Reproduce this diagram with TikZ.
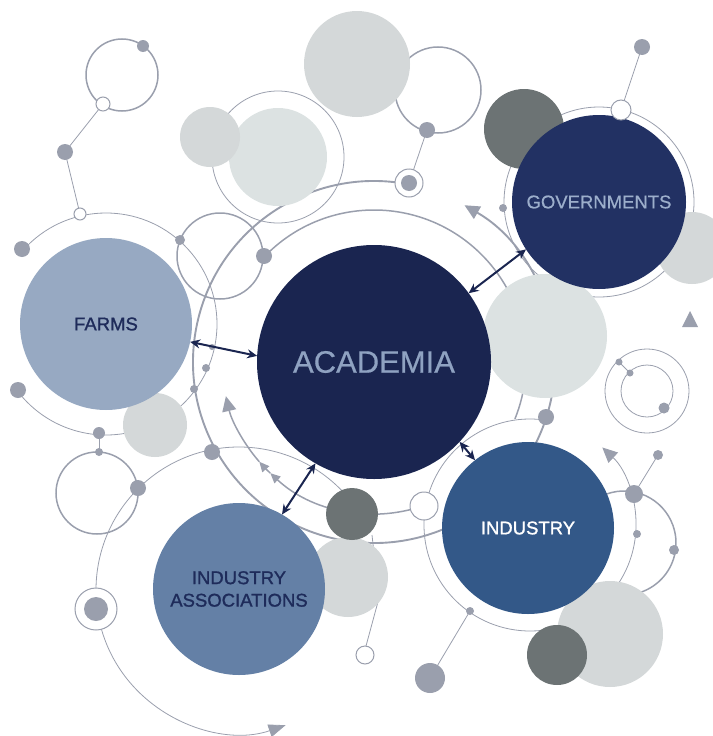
\documentclass[tikz,border=0pt]{standalone}
\usepackage{fontspec}
\setmainfont{Liberation Sans}
\newfontfamily\medfont[FakeBold=1.2]{Liberation Sans}
\newfontfamily\semifont[FakeBold=0.5]{Liberation Sans}
\usetikzlibrary{arrows.meta}
\definecolor{acadc}{HTML}{1A2550}
\definecolor{acadt}{HTML}{8FA2C1}
\definecolor{govc}{HTML}{223163}
\definecolor{govt}{HTML}{9CAECB}
\definecolor{farmc}{HTML}{97A9C2}
\definecolor{darkt}{HTML}{1E2B5A}
\definecolor{indc}{HTML}{335888}
\definecolor{iac}{HTML}{6480A6}
\definecolor{lgray}{HTML}{D4D8D9}
\definecolor{lgrayb}{HTML}{DCE2E2}
\definecolor{dgray}{HTML}{6C7374}
\definecolor{dotc}{HTML}{9A9FAD}
\definecolor{linec}{HTML}{9A9FAD}
\tikzset{
  thinline/.style={draw=linec, line width=0.8pt},
  medline/.style={draw=linec, line width=1.5pt},
  thickline/.style={draw=linec, line width=1.9pt},
  bigtip/.style={-{Triangle[width=14pt,length=15pt]}},
  smalltip/.style={-{Triangle[width=9pt,length=10pt]}},
  mainc/.style={circle, inner sep=0pt, outer sep=0pt, draw=none, align=center},
  link/.style={draw=acadc, line width=2pt, {Stealth[length=10pt,width=9pt]}-{Stealth[length=10pt,width=9pt]}},
  opendot/.style={fill=white, draw=linec, line width=1pt},
}
\begin{document}
\begin{tikzpicture}[x=1pt,y=-1pt]
\useasboundingbox (0,0) rectangle (712,736);
% ---------- thin rings ----------
\draw[thinline] (106,324) ++(138:111pt) arc[start angle=138, end angle=-143, radius=111pt];
\draw[thinline] (278,157) circle[radius=66pt];
\draw[thinline] (599,202) circle[radius=95pt];
\draw[thinline] (647,391) circle[radius=42pt];
\draw[thinline] (647,391) circle[radius=26pt];
\draw[thinline] (619,362) -- (630,373);
\draw[thinline, -{Triangle[width=13pt,length=17pt]}] (239,590) ++(40:143pt) arc[start angle=40, end angle=289, radius=143pt];
\draw[thinline, bigtip] (530,525) ++(-278:106pt) arc[start angle=-278, end angle=47, radius=106pt];
% ---------- medium / thick rings ----------
\draw[thickline, bigtip] (374,362) ++(79:181pt) arc[start angle=79, end angle=420, radius=181pt];
\draw[medline] (374,362) ++(136:152pt) arc[start angle=136, end angle=-22, radius=152pt];
\draw[medline, smalltip] (374,362) ++(-71:152pt) arc[start angle=-71, end angle=-133, radius=152pt];
\draw[medline, smalltip] (374,362) ++(-133:152pt) arc[start angle=-133, end angle=-139, radius=152pt];
\draw[medline, bigtip] (374,362) ++(-139:152pt) arc[start angle=-139, end angle=-167, radius=152pt];
\draw[medline] (122,75) circle[radius=36pt];
\draw[medline] (220,256) circle[radius=43pt];
\draw[medline] (438,90) circle[radius=43pt];
\draw[medline] (97,493) circle[radius=41pt];
\draw[medline] (624,543) ++(110:52pt) arc[start angle=110, end angle=-72, radius=52pt];
% ---------- connecting lines ----------
\draw[thinline] (103,104) -- (65,152) -- (80,214);
\draw[thinline] (99,433) -- (99,452);
\draw[thinline] (409,183) -- (427,130);
\draw[thinline] (621,110) -- (642,47);
\draw[thinline] (634,494) -- (658,455);
\draw[thinline] (470,611) -- (430,678);
\draw[thinline] (366,646) -- (379,598) -- (372,535);
% ---------- grey filled circles ----------
\fill[lgray] (357,64) circle[radius=53pt];
\fill[lgrayb] (278,157) circle[radius=49pt];
\fill[lgray] (210,137) circle[radius=30pt];
\fill[lgray] (692,248) circle[radius=36pt];
\fill[dgray] (524,129) circle[radius=40pt];
\fill[lgrayb] (545,336) circle[radius=62pt];
\fill[lgray] (155,425) circle[radius=32pt];
\fill[lgray] (348,577) circle[radius=40pt];
\fill[dgray] (352,514) circle[radius=26pt];
\fill[lgray] (610,634) circle[radius=53pt];
\fill[dgray] (557,655) circle[radius=30pt];
\fill[dotc] (690,311) -- (698,327) -- (682,327) -- cycle;
% ---------- main circles ----------
\node[mainc, minimum size=234pt, fill=acadc, text=acadt, font=\semifont\fontsize{31}{31}\selectfont] (acad) at (374,362) {ACADEMIA};
\node[mainc, minimum size=174pt, fill=govc, text=govt, font=\semifont\fontsize{18.5}{22}\selectfont] (gov) at (599,202) {GOVERNMENTS};
\node[mainc, minimum size=172pt, fill=farmc, text=darkt, font=\medfont\fontsize{18.5}{22}\selectfont] (farms) at (106,324) {FARMS};
\node[mainc, minimum size=172pt, fill=indc, text=white, font=\medfont\fontsize{18.5}{22}\selectfont] (ind) at (528,528) {INDUSTRY};
\node[mainc, minimum size=172pt, fill=iac, text=darkt, font=\medfont\fontsize{18.5}{22.5}\selectfont] (ia) at (239,589) {INDUSTRY\\ASSOCIATIONS};
% ---------- dots ----------
\fill[dotc] (143,46) circle[radius=6pt];
\draw[opendot] (103,104) circle[radius=7pt];
\fill[dotc] (65,152) circle[radius=8pt];
\draw[opendot] (80,214) circle[radius=6pt];
\fill[dotc] (22,249) circle[radius=8pt];
\fill[dotc] (180,240) circle[radius=5pt];
\fill[dotc] (264,256) circle[radius=8pt];
\fill[dotc] (427,130) circle[radius=8pt];
\draw[opendot] (409,183) circle[radius=14pt];
\fill[dotc] (409,183) circle[radius=8pt];
\draw[opendot] (621,110) circle[radius=10pt];
\fill[dotc] (642,47) circle[radius=8pt];
\fill[dotc] (503,208) circle[radius=4pt];
\fill[dotc] (212,347) circle[radius=3pt];
\fill[dotc] (206,368) circle[radius=4pt];
\fill[dotc] (194,389) circle[radius=4pt];
\fill[dotc] (18,390) circle[radius=8pt];
\fill[dotc] (99,433) circle[radius=6pt];
\fill[dotc] (99,452) circle[radius=4pt];
\fill[dotc] (138,488) circle[radius=8pt];
\fill[dotc] (212,452) circle[radius=8pt];
\draw[opendot] (96,609) circle[radius=21pt];
\fill[dotc] (96,609) circle[radius=12pt];
\fill[dotc] (546,417) circle[radius=8pt];
\draw[opendot] (424,506) circle[radius=14pt];
\draw[opendot] (365,655) circle[radius=9pt];
\fill[dotc] (470,611) circle[radius=4pt];
\fill[dotc] (430,678) circle[radius=15pt];
\fill[dotc] (634,494) circle[radius=9pt];
\fill[dotc] (658,455) circle[radius=5pt];
\fill[dotc] (637,534) circle[radius=4pt];
\fill[dotc] (674,550) circle[radius=5pt];
\fill[dotc] (619,362) circle[radius=3.5pt];
\fill[dotc] (630,373) circle[radius=3.5pt];
\fill[dotc] (664,408) circle[radius=5.5pt];
% ---------- links ----------
\draw[link] (farms.-12) -- (acad.177);
\draw[link] (acad.36) -- (gov.213);
\draw[link] (acad.-43) -- (ind.128);
\draw[link] (acad.-120) -- (ia.60);
\end{tikzpicture}
\end{document}
